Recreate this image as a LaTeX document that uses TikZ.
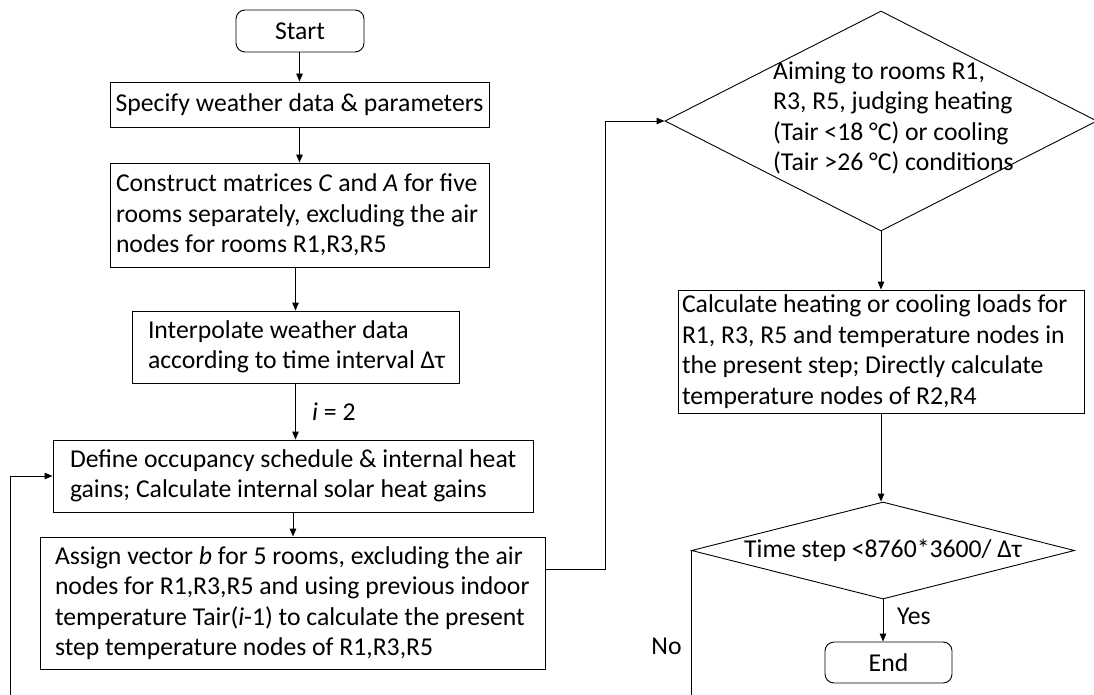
\documentclass[tikz,border=0pt]{standalone}
\usepackage{fontspec}
\setmainfont{Carlito}
\usetikzlibrary{arrows.meta,shapes.geometric}
\newcommand{\Lf}[1]{\mbox{#1}}
\begin{document}
\begin{tikzpicture}[x=1pt,y=-1pt,
  every node/.style={font=\fontsize{25.7}{30.5}\selectfont},
  box/.style={draw, line width=0.9pt, rectangle, align=flush left, inner ysep=0pt},
  term/.style={draw, line width=0.9pt, rectangle, rounded corners=9pt, align=center, inner sep=0pt},
  dec/.style={draw, line width=0.9pt, diamond, inner sep=0pt},
  arr/.style={line width=0.9pt, -{Triangle[length=8pt,width=6.5pt]}},
  lbl/.style={inner sep=0pt}]
\useasboundingbox (0,0) rectangle (1094,695);
\clip (0,0) rectangle (1094,695);

\node[term, minimum width=128pt, minimum height=42pt] (start) at (300,31) {Start};
\node[box, inner xsep=0pt, minimum width=379pt, minimum height=45pt, align=center] (spec) at (299.5,104.5) {Specify weather data \& parameters};
\node[box, text width=367pt, inner xsep=6pt, minimum height=104pt] (cons) at (299.5,215) {\Lf{Construct matrices \textit{C} and \textit{A} for five}\\ \Lf{rooms separately, excluding the air}\\ \Lf{nodes for rooms R1,R3,R5}};
\node[box, text width=295pt, inner xsep=16pt, minimum height=72pt] (interp) at (295.5,347) {\Lf{Interpolate weather data}\\ \Lf{according to time interval Δτ}};
\node[box, text width=446pt, inner xsep=17pt, minimum height=72pt] (def) at (293,476) {\Lf{Define occupancy schedule \& internal heat}\\ \Lf{gains; Calculate internal solar heat gains}};
\node[box, text width=475pt, inner xsep=15pt, minimum height=132pt] (assign) at (292.5,603) {\Lf{Assign vector \textit{b} for 5 rooms, excluding the air}\\ \Lf{nodes for R1,R3,R5 and using previous indoor}\\ \Lf{temperature Tair(\textit{i}-1) to calculate the present}\\ \Lf{step temperature nodes of R1,R3,R5}};

\node[dec, minimum width=432pt, minimum height=220pt] (d1) at (881,121) {};
\node[lbl, anchor=west, align=flush left] (d1t) at (773,118) {Aiming to rooms R1,\\ R3, R5, judging heating\\ (Tair <18 °C) or cooling\\ (Tair >26 °C) conditions};
\node[box, text width=398pt, inner xsep=4pt, minimum height=123pt] (calc) at (881,351.5) {\Lf{Calculate heating or cooling loads for}\\ \Lf{R1, R3, R5 and temperature nodes in}\\ \Lf{the present step; Directly calculate}\\ \Lf{temperature nodes of R2,R4}};
\node[dec, minimum width=383pt, minimum height=97pt, shape aspect=3.9] (d2) at (883,550.5) {Time step <8760*3600/ Δτ};
\node[term, minimum width=127pt, minimum height=41pt] (end) at (888.5,662.5) {End};

\node[lbl, anchor=west] (ilbl) at (312,412) {\textit{i} = 2};
\node[lbl, anchor=west] (yes) at (897,616) {Yes};
\node[lbl] (no) at (666.5,646) {No};

\draw[arr] (start.south -| spec.north) -- (spec.north);
\draw[arr] (spec.south) -- (spec.south |- cons.north);
\draw[arr] (interp.north |- cons.south) -- (interp.north);
\draw[arr] (interp.south) -- (interp.south |- def.north);
\draw[arr] (def.south) -- (def.south |- assign.north);

\coordinate (j1) at (605,569);
\draw[arr] (assign.east |- j1) -- (j1) -- (j1 |- d1.west) -- (d1.west);
\draw[arr] (d1.south) -- (d1.south |- calc.north);
\draw[arr] (calc.south) -- (calc.south |- d2.north);
\draw[arr] (d2.south) -- (d2.south |- end.north);

\coordinate (lb) at (10.5,730);
\draw[arr] (d2.west) -- (d2.west |- lb) -- (lb) -- (lb |- def.west) -- (def.west);
\end{tikzpicture}
\end{document}
